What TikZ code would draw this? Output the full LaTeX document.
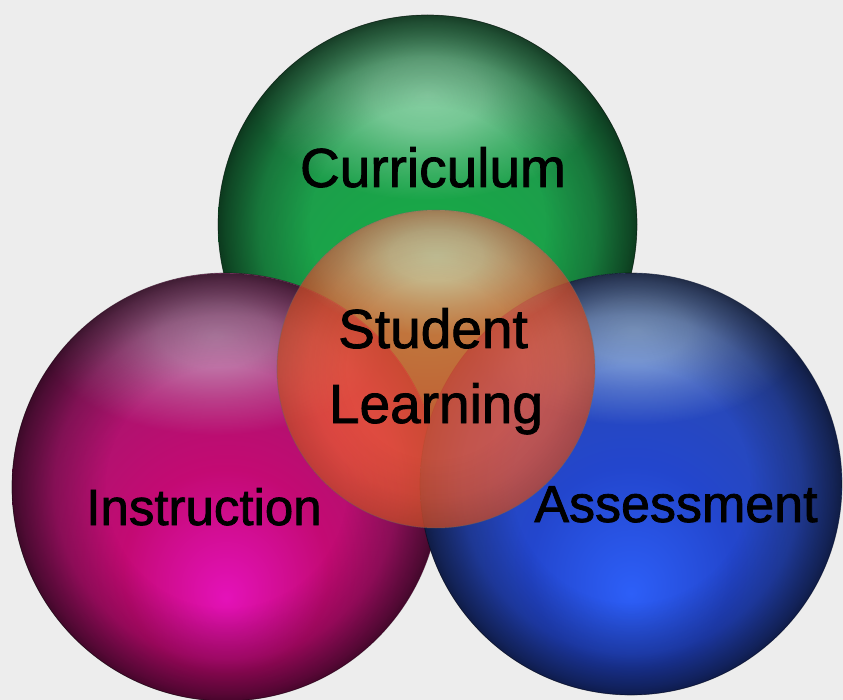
\documentclass[tikz,border=0pt]{standalone}
\usepackage{fontspec}
\setmainfont[FakeBold=1.5]{Liberation Sans}
\usetikzlibrary{fadings}
\definecolor{bg}{RGB}{237,237,237}
\definecolor{Gglow}{RGB}{22,188,78}
\definecolor{Gmid}{RGB}{25,165,72}
\definecolor{Gtop}{RGB}{35,145,80}
\definecolor{Ghi}{RGB}{180,230,200}
\definecolor{Mglow}{RGB}{228,18,185}
\definecolor{Mmid}{RGB}{195,10,115}
\definecolor{Mtop}{RGB}{150,30,105}
\definecolor{Mhi}{RGB}{205,180,205}
\definecolor{Bglow}{RGB}{45,95,248}
\definecolor{Bmid}{RGB}{35,70,205}
\definecolor{Btop}{RGB}{45,75,165}
\definecolor{Bhi}{RGB}{180,210,235}
\definecolor{Cred}{RGB}{250,95,55}
\definecolor{Chi}{RGB}{200,228,190}
\pgfdeclareradialshading{gshade}{\pgfpoint{0bp}{-12bp}}{color(0bp)=(Gglow); color(12bp)=(Gmid); color(30bp)=(Gtop); color(50bp)=(Gtop)}
\pgfdeclareradialshading{mshade}{\pgfpoint{0bp}{-13bp}}{color(0bp)=(Mglow); color(12bp)=(Mmid); color(30bp)=(Mtop); color(50bp)=(Mtop)}
\pgfdeclareradialshading{bshade}{\pgfpoint{0bp}{-13bp}}{color(0bp)=(Bglow); color(12bp)=(Bmid); color(30bp)=(Btop); color(50bp)=(Btop)}
% fading masks: white = opaque, black = transparent
\pgfdeclareradialshading{rimmask}{\pgfpointorigin}{color(0bp)=(black); color(14bp)=(black); color(20bp)=(black!78); color(24bp)=(black!48); color(25bp)=(black!38); color(50bp)=(black!38)}
\pgfdeclareradialshading{softmask}{\pgfpointorigin}{color(0bp)=(black!30); color(8bp)=(black!42); color(16bp)=(black!72); color(25bp)=(black); color(50bp)=(black)}
\pgfdeclarefading{rimfade}{\pgfuseshading{rimmask}}
\pgfdeclarefading{softfade}{\pgfuseshading{softmask}}
\newcommand\SphereDraw[9]{%
  \shade[shading=#4] (#1,#2) circle (#3);
  \begin{scope}
    \clip (#1,#2) circle (#3);
    \fill[#5, path fading=softfade] (#6,#7) ellipse ({#8} and {#9});
  \end{scope}
  \fill[black, path fading=rimfade] (#1,#2) circle (#3);
  \draw[black, line width=0.7pt, opacity=0.45] (#1,#2) circle (#3);
}
\begin{document}
\begin{tikzpicture}[x=1pt,y=-1pt,
  lbl/.style={font=\fontsize{55}{75}\selectfont, text=black, inner sep=0pt, anchor=base}]
\useasboundingbox (0,0) rectangle (843,700);
\fill[bg] (0,0) rectangle (843,700);
% spheres
\SphereDraw{427.5}{224.5}{209.5}{gshade}{Ghi}{427}{95}{175}{105}
\SphereDraw{226}{487}{214}{mshade}{Mhi}{215}{335}{175}{100}
\SphereDraw{631}{484}{211}{bshade}{Bhi}{635}{330}{170}{95}
% centre translucent sphere
\fill[Cred, opacity=0.75] (436,369) circle (159);
\begin{scope}
  \clip (436,369) circle (159);
  \fill[Chi, path fading=softfade] (436,255) ellipse (145 and 80);
\end{scope}
\fill[black, path fading=rimfade, opacity=0.3] (436,369) circle (159);
\draw[black!60, line width=1pt, opacity=0.35] (436,369) circle (159);
% labels
\node[lbl] (cur) at (433,187) {Curriculum};
\node[lbl, font=\fontsize{51}{60}\selectfont] (ins) at (204,525) {Instruction};
\node[lbl, font=\fontsize{52}{60}\selectfont] (ass) at (676,522) {Assessment};
\node[lbl] (stu) at (433,348) {Student};
\node[lbl] (lea) at (436,423) {Learning};
\end{tikzpicture}
\end{document}
